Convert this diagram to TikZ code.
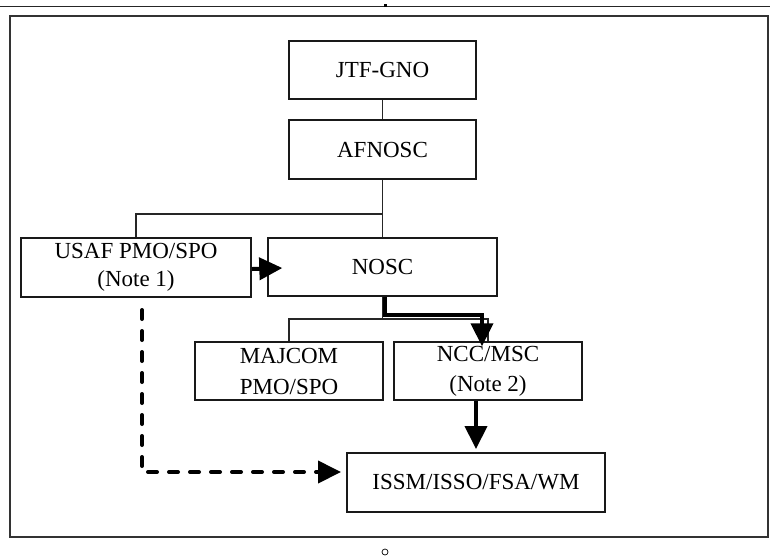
\documentclass[tikz,border=0pt]{standalone}
\usepackage{fontspec}
\setmainfont{Liberation Serif}
\usetikzlibrary{arrows.meta}
\begin{document}
\begin{tikzpicture}[x=1pt,y=-1pt,
  box/.style={draw=black!90,line width=1.4pt,rectangle,inner sep=0pt,align=center,
    font=\fontsize{23}{30}\selectfont},
  thin/.style={draw=black!85,line width=1.1pt},
  bold/.style={draw=black,line width=4pt},
  tip/.style={-{Triangle[length=23pt,width=22pt]}},
  dashline/.style={draw=black,line width=4pt,line cap=round,line join=round,dash pattern=on 9pt off 12pt}
]
\useasboundingbox (0,0) rectangle (770,558);
% page decorations
\draw[line width=1.2pt,black!85] (0,6.5) -- (770,6.5);
\fill[black] (383.5,4) rectangle (386.5,7);
\draw[line width=1.4pt,black!80] (10,16) rectangle (768,537);
\draw[line width=0.7pt] (385,552) circle (3);
% boxes
\node[box,minimum width=187pt,minimum height=58pt] (jtf) at (382.5,70) {JTF-GNO};
\node[box,minimum width=187pt,minimum height=59pt] (afn) at (382.5,149.5) {AFNOSC};
\node[box,line width=2pt,minimum width=230pt,minimum height=59pt,font=\fontsize{23}{28}\selectfont] (usaf) at (136,267.5) {USAF PMO/SPO\\(Note 1)};
\node[box,minimum width=229pt,minimum height=58pt] (nosc) at (382.5,267) {NOSC};
\node[box,minimum width=188pt,minimum height=58pt,font=\fontsize{23}{31}\selectfont] (maj) at (289,371) {MAJCOM\\PMO/SPO};
\node[box,minimum width=188pt,minimum height=58pt] (ncc) at (488,371) {NCC/MSC\\(Note 2)};
\node[box,line width=2pt,minimum width=258pt,minimum height=59pt] (issm) at (476,482.5) {ISSM/ISSO/FSA/WM};
% thin tree lines
\coordinate (b1) at (382.5,214);
\coordinate (b2) at (382.5,319);
\draw[thin] (jtf.south) -- (afn.north);
\draw[thin] (afn.south) -- (nosc.north);
\draw[thin] (b1) -| (usaf.north);
\draw[thin] (nosc.south) -- (b2);
\draw[thin] (b2) -| (maj.north);
\draw[thin] (b2) -| (ncc.north);
% bold arrows
\coordinate (k1) at (385,315);
\draw[bold,tip,shorten >=-5pt] (nosc.south -| k1) -- (k1) -| ([xshift=-6pt]ncc.north);
\draw[bold,tip,shorten >=3pt] (ncc.south -| issm.north) -- (issm.north);
\draw[bold,tip,shorten >=-15pt] ([yshift=-1.5pt]usaf.east) -- ([yshift=-1.5pt]nosc.west);
% dashed arrow
\coordinate (d0) at (142,310);
\draw[dashline,tip,shorten >=5pt] (d0) |- ([yshift=10.5pt]issm.west);
\end{tikzpicture}
\end{document}
